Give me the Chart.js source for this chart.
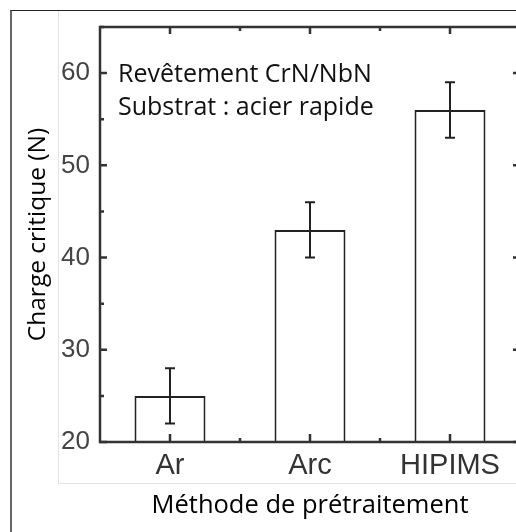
<!DOCTYPE html>
<html>
<head>
<meta charset="utf-8">
<script src="https://cdn.jsdelivr.net/npm/chart.js@4.4.1/dist/chart.umd.min.js"></script>
<style>
  html, body { margin: 0; padding: 0; background: #fff; overflow: hidden; }
  .wrap { position: relative; width: 516px; height: 532px; overflow: hidden; }
  canvas { position: absolute; left: 0; top: 0; }
  .frame { position: absolute; left: 10px; top: 10px; width: 520px; height: 540px; border-left: 2px solid #666; border-top: 1px solid #222; }
  .inset { position: absolute; left: 58px; top: 11px; width: 470px; height: 472px; border-left: 1px solid #e3e3e3; border-bottom: 1px solid #e3e3e3; }
</style>
</head>
<body>
<div class="wrap">
  <div class="frame"></div>
  <div class="inset"></div>
  <canvas id="bar" width="540" height="532"></canvas>
</div>
<script>
const labels = ['Ar', 'Arc', 'HIPIMS'];
const chargeCritique = [25, 43, 56];
const erreur = [3, 3, 3];
const yTicks = [20, 30, 40, 50, 60];
const annotation = ['Revêtement CrN/NbN', 'Substrat : acier rapide'];

// box, inward ticks, error bars and the text inside the plot
const cadre = {
  id: 'cadre',
  afterDatasetsDraw(chart) {
    const {ctx, chartArea: a, scales: {x, y}} = chart;
    ctx.save();

    ctx.strokeStyle = '#222';
    ctx.lineWidth = 2;
    chart.getDatasetMeta(0).data.forEach((bar, i) => {
      const hi = y.getPixelForValue(chargeCritique[i] + erreur[i]);
      const lo = y.getPixelForValue(chargeCritique[i] - erreur[i]);
      ctx.beginPath();
      ctx.moveTo(bar.x, hi); ctx.lineTo(bar.x, lo);
      ctx.moveTo(bar.x - 5, hi); ctx.lineTo(bar.x + 5, hi);
      ctx.moveTo(bar.x - 5, lo); ctx.lineTo(bar.x + 5, lo);
      ctx.stroke();
    });

    ctx.strokeStyle = '#333';
    ctx.lineWidth = 2.5;
    ctx.strokeRect(a.left, a.top, a.right - a.left, a.bottom - a.top);

    ctx.beginPath();
    y.ticks.forEach(t => {
      const py = y.getPixelForValue(t.value);
      const len = yTicks.includes(t.value) ? 7 : 4;
      ctx.moveTo(a.left, py); ctx.lineTo(a.left + len, py);
      ctx.moveTo(a.right, py); ctx.lineTo(a.right - len, py);
    });
    labels.forEach((l, i) => {
      const px = x.getPixelForValue(i);
      ctx.moveTo(px, a.bottom); ctx.lineTo(px, a.bottom - 8);
      ctx.moveTo(px, a.top); ctx.lineTo(px, a.top + 7);
      if (i < labels.length - 1) {
        const pm = x.getPixelForValue(i + 0.5);
        ctx.moveTo(pm, a.bottom); ctx.lineTo(pm, a.bottom - 4);
        ctx.moveTo(pm, a.top); ctx.lineTo(pm, a.top + 4);
      }
    });
    ctx.stroke();

    ctx.fillStyle = '#111';
    ctx.font = '25px "Open Sans"';
    ctx.textBaseline = 'alphabetic';
    ctx.fillText(annotation[0], a.left + 18, a.top + 55);
    ctx.fillText(annotation[1], a.left + 18, a.top + 88);
    ctx.restore();
  }
};

new Chart(document.getElementById('bar'), {
  type: 'bar',
  data: {
    labels: labels,
    datasets: [{
      data: chargeCritique,
      backgroundColor: '#fff',
      borderColor: '#222',
      borderWidth: 2,
      barPercentage: 0.507,
      categoryPercentage: 1
    }]
  },
  options: {
    responsive: false,
    animation: false,
    layout: { padding: { top: 27, right: 20, left: 0, bottom: 0 } },
    plugins: { legend: { display: false }, tooltip: { enabled: false } },
    scales: {
      x: {
        grid: { display: false, drawTicks: false },
        border: { display: false },
        ticks: { font: { family: 'Liberation Sans', size: 29 }, color: '#333', padding: 7, maxRotation: 0 },
        title: {
          display: true,
          text: 'Méthode de prétraitement',
          font: { family: 'Open Sans', size: 25.5 },
          color: '#000',
          padding: { top: 0, bottom: 11 }
        },
        afterFit: s => { s.height = 90; }
      },
      y: {
        min: 20,
        max: 65,
        grid: { display: false, drawTicks: false },
        border: { display: false },
        ticks: {
          stepSize: 5,
          callback: v => yTicks.includes(v) ? v : '',
          font: { family: 'Liberation Sans', size: 26 },
          color: '#444',
          padding: 10
        },
        title: {
          display: true,
          text: 'Charge critique (N)',
          font: { family: 'Open Sans', size: 24.5 },
          color: '#000',
          padding: { top: 23, bottom: 0 }
        },
        afterFit: s => { s.width = 100; }
      }
    }
  },
  plugins: [cadre]
});
</script>
</body>
</html>
